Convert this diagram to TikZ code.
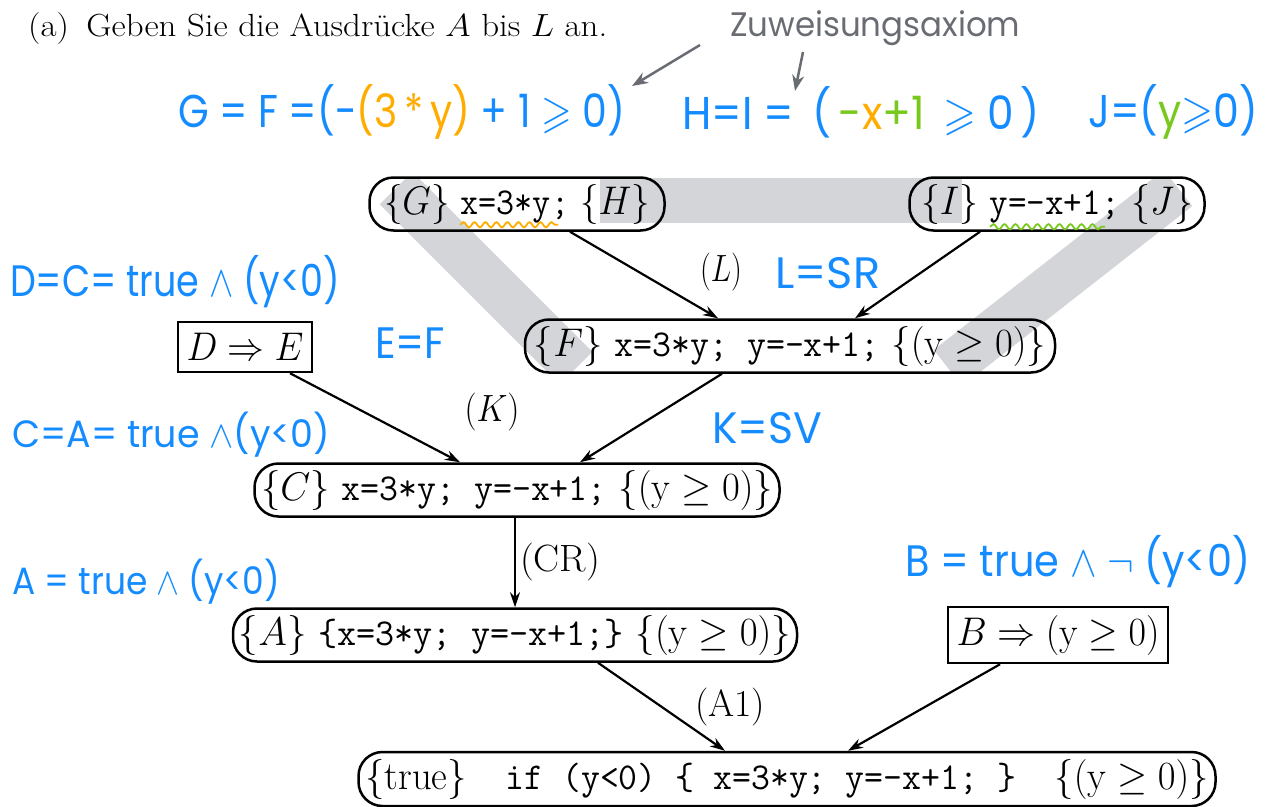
\RequirePackage{fix-cm}
\documentclass[tikz,border=0pt]{standalone}
\usepackage{amsmath,amssymb}
\usepackage{fontspec}
\newfontfamily\hand{Poppins}
\usetikzlibrary{decorations.pathmorphing,arrows.meta}
\definecolor{hblue}{RGB}{20,140,255}
\definecolor{horange}{RGB}{255,172,0}
\definecolor{hgreen}{RGB}{120,200,30}
\definecolor{hgray}{RGB}{105,108,115}
\definecolor{bandgray}{RGB}{212,213,216}
\newcommand\fitw[2]{\resizebox{#1}{\height}{#2}}
\newcommand\mycode[1]{{\fontsize{38}{44}\selectfont\ttfamily #1}}
\begin{document}
\begin{tikzpicture}[x=1pt,y=-1pt,
  rnode/.style={draw, line width=2.5pt, rounded corners=24pt, minimum height=53pt, inner sep=0pt, font=\fontsize{40}{46}\selectfont},
  bnode/.style={draw, line width=2.5pt, minimum height=50pt, inner sep=0pt, font=\fontsize{40}{46}\selectfont},
  conn/.style={line width=2.2pt, -{Stealth[length=15pt,width=10pt]}},
  lab/.style={font=\fontsize{38}{44}\selectfont, inner sep=0pt},
  hw/.style={font=\hand\fontsize{44}{50}\selectfont, text=hblue, inner sep=0pt, anchor=west},
  band/.style={bandgray, line width=46pt},
  wavy/.style={line width=1.8pt, decorate, decoration={snake, amplitude=2.6pt, segment length=11pt}},
  harrow/.style={hgray, line width=2.5pt, -{Stealth[length=16pt,width=12pt]}}]
\useasboundingbox (0,0) rectangle (1265,806);

% highlight bands
\begin{scope}
\clip (0,178) rectangle (1265,373);
\draw[band] (600,200) -- (962,200);
\draw[band] (396,188) -- (576,368);
\draw[band] (1178,188) -- (948,368);
\end{scope}

% heading
\node[anchor=base west, font=\fontsize{32}{38}\selectfont, inner sep=0pt] (head) at (28,36)
  {\fitw{579pt}{(a)\enspace Geben Sie die Ausdrücke $A$ bis $L$ an.}};

% nodes
\node[rnode, minimum width=295pt] (G) at (517,204) {\fitw{266pt}{$\{G\}$ \mycode{x=3*y;} $\{H\}$}};
\node[rnode, minimum width=295pt] (I) at (1057,204) {\fitw{272pt}{$\{I\}$ \mycode{y=-x+1;} $\{J\}$}};
\node[rnode, minimum width=530pt] (F) at (790,346) {\fitw{512pt}{$\{F\}$ \mycode{x=3*y; y=-x+1;} $\{(\mathrm{y}\geq 0)\}$}};
\node[bnode, minimum width=134pt] (DE) at (245,347) {\fitw{117pt}{$D\Rightarrow E$}};
\node[rnode, minimum width=525pt] (C) at (517,490) {\fitw{512pt}{$\{C\}$ \mycode{x=3*y; y=-x+1;} $\{(\mathrm{y}\geq 0)\}$}};
\node[rnode, minimum width=564pt] (A) at (515,635) {\fitw{552pt}{$\{A\}$ \mycode{\{x=3*y; y=-x+1;\}} $\{(\mathrm{y}\geq 0)\}$}};
\node[bnode, minimum width=220pt, minimum height=56pt] (B) at (1058,635) {\fitw{203pt}{$B\Rightarrow(\mathrm{y}\geq 0)$}};
\node[rnode, minimum width=857pt, minimum height=54pt] (T) at (787,779) {\fitw{843pt}{$\{\mathrm{true}\}$\quad\mycode{if (y<0) \{ x=3*y; y=-x+1; \}}\quad$\{(\mathrm{y}\geq 0)\}$}};

% wavy underlines
\draw[wavy, horange] ([xshift=-57pt,yshift=7pt]G.south) -- ([xshift=41pt,yshift=7pt]G.south);
\draw[wavy, hgreen] ([xshift=-67pt,yshift=5pt]I.south) -- ([xshift=48pt,yshift=5pt]I.south);

% connectors
\draw[conn] ([xshift=53pt]G.south) -- ([xshift=-72pt]F.north);
\draw[conn] ([xshift=-77pt]I.south) -- ([xshift=65pt]F.north);
\draw[conn] ([xshift=45pt]DE.south) -- ([xshift=-57pt]C.north);
\draw[conn] ([xshift=-68pt]F.south) -- ([xshift=63pt]C.north);
\draw[conn] ([xshift=-2pt]C.south) -- (A.north);
\draw[conn] ([xshift=83pt]A.south) -- ([xshift=-62pt]T.north);
\draw[conn] ([xshift=-58pt]B.south) -- ([xshift=61pt]T.north);

% rule labels
\node[lab] (lL) at (721,272) {\fitw{42pt}{$(L)$}};
\node[lab] (lK) at (492,412) {\fitw{55pt}{$(K)$}};
\node[lab] (lCR) at (560,562) {\fitw{80pt}{(CR)}};
\node[lab] (lA1) at (730,707) {\fitw{70pt}{(A1)}};

% handwritten annotations
\node[hw, font=\hand\fontsize{34}{40}\selectfont, text=hgray] (zw) at (730,28) {\fitw{290pt}{Zuweisungsaxiom}};
\coordinate (zw1) at (700,45);
\coordinate (zw2) at (803,52);
\coordinate (t1) at (632,86);
\coordinate (t2) at (795,91);
\draw[harrow] (zw1) -- (t1);
\draw[harrow] (zw2) -- (t2);

\node[hw, font=\hand\fontsize{46}{52}\selectfont] (gf) at (178,112) {\fitw{447pt}{G = F =(-\textcolor{horange}{(3\,*\,y)} + 1 $\geqslant$ 0)}};
\node[hw, font=\hand\fontsize{46}{52}\selectfont] (hi) at (682,112) {\fitw{358pt}{H=I = \,(\,\textcolor{hgreen}{-}\textcolor{horange}{x}\textcolor{hgreen}{+1} \,$\geqslant$ 0\,)}};
\node[hw, font=\hand\fontsize{46}{52}\selectfont] (jj) at (1088,112) {\fitw{170pt}{J=(\textcolor{hgreen}{y}$\geqslant$0)}};
\node[hw] (dc) at (10,282) {\fitw{330pt}{D=C= true $\wedge$ (y<0)}};
\node[hw] (ef) at (375,343) {\fitw{70pt}{E=F}};
\node[hw] (lsr) at (775,273) {\fitw{105pt}{L=SR}};
\node[hw, font=\hand\fontsize{38}{44}\selectfont] (ca) at (12,435) {\fitw{318pt}{C=A= true $\wedge$(y<0)}};
\node[hw] (ksv) at (712,428) {\fitw{110pt}{K=SV}};
\node[hw, font=\hand\fontsize{38}{44}\selectfont] (aa) at (12,582) {\fitw{268pt}{A = true $\wedge$ (y<0)}};
\node[hw] (bb) at (905,562) {\fitw{345pt}{B = true $\wedge$ $\neg$ (y<0)}};
\end{tikzpicture}
\end{document}
